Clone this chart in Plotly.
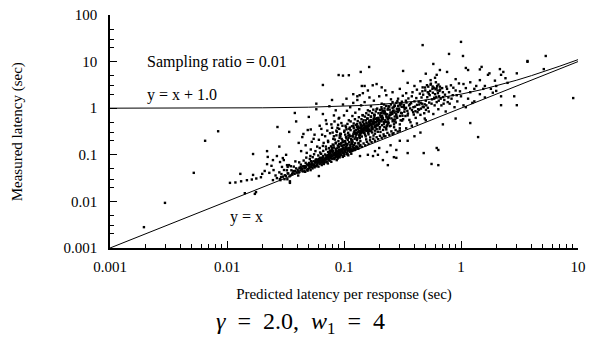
import math
import plotly.graph_objects as go

# ---- data: (predicted latency, measured latency) pairs ----
outliers_left = [
    (0.00195, 0.0028), (0.00295, 0.0093), (0.0052, 0.041), (0.0084, 0.32), (0.0065, 0.2),
    (0.0167, 0.104), (0.0106, 0.025), (0.0118, 0.0255), (0.0132, 0.027), (0.0148, 0.0285),
    (0.0163, 0.0295), (0.0178, 0.031), (0.0195, 0.033), (0.013, 0.039), (0.0167, 0.037),
    (0.020, 0.039), (0.023, 0.041), (0.0142, 0.015), (0.0173, 0.0145),
    (0.0177, 0.0158), (0.0223, 0.09), (0.0267, 0.094), (0.0247, 0.077), (0.0284, 0.07),
    (0.022, 0.063), (0.024, 0.058), (0.0295, 0.055), (0.0326, 0.06), (0.0306, 0.077),
    (0.0267, 0.0316), (0.0247, 0.0286), (0.0345, 0.027), (0.021, 0.045), (0.025, 0.047),
    (0.028, 0.042), (0.026, 0.036), (0.029, 0.033), (0.031, 0.030), (0.022, 0.12),
    (0.028, 0.15), (0.032, 0.10), (0.033, 0.055), (0.030, 0.085), (0.033, 0.040), (0.0345, 0.025),
]

lower_branch = [
    (0.0283, 0.0301), (0.0301, 0.0339), (0.0292, 0.0386), (0.0307, 0.0472), (0.0286, 0.0286),
    (0.0328, 0.0299), (0.0319, 0.0351), (0.0334, 0.0397), (0.0325, 0.0465), (0.0312, 0.0364), (0.0339, 0.0601),
    (0.0349, 0.0362), (0.0364, 0.0408), (0.0355, 0.0465), (0.0342, 0.0344), (0.0369, 0.0447),
    (0.0351, 0.0568), (0.0360, 0.0383),
    (0.0406, 0.0359), (0.0378, 0.0398), (0.0394, 0.0421), (0.0382, 0.0449), (0.0402, 0.0476),
    (0.0390, 0.0511), (0.0372, 0.0558), (0.0408, 0.0437), (0.0384, 0.0722),
    (0.0412, 0.0417), (0.0448, 0.0439), (0.0424, 0.0464), (0.0436, 0.0495), (0.0416, 0.0525),
    (0.0444, 0.0563), (0.0428, 0.0615), (0.0414, 0.0688), (0.0438, 0.0482), (0.0426, 0.0542),
    (0.0466, 0.0432), (0.0486, 0.0479), (0.0458, 0.0508), (0.0474, 0.0541), (0.0462, 0.0573),
    (0.0482, 0.0616), (0.0470, 0.0672), (0.0452, 0.0752), (0.0488, 0.0456), (0.0464, 0.0526), (0.0476, 0.0870),
    (0.0518, 0.0469), (0.0506, 0.0520), (0.0526, 0.0551), (0.0498, 0.0587), (0.0514, 0.0622),
    (0.0502, 0.0668), (0.0522, 0.0729), (0.0510, 0.0816), (0.0492, 0.0495), (0.0528, 0.0571),
    (0.0504, 0.0643), (0.0516, 0.0944),
    (0.0538, 0.0511), (0.0573, 0.0566), (0.0553, 0.0599), (0.0535, 0.0638), (0.0565, 0.0677),
    (0.0550, 0.0727), (0.0575, 0.0794), (0.0540, 0.0888), (0.0560, 0.0538), (0.0545, 0.0622),
    (0.0570, 0.0699), (0.0555, 0.1027),
    (0.0605, 0.0557), (0.0583, 0.0617), (0.0628, 0.0653), (0.0598, 0.0696), (0.0613, 0.0738),
    (0.0588, 0.0793), (0.0623, 0.0865), (0.0603, 0.0968), (0.0585, 0.0587), (0.0615, 0.0678),
    (0.0600, 0.0762), (0.0625, 0.1119),
    (0.0645, 0.0603), (0.0670, 0.0668), (0.0655, 0.0707), (0.0633, 0.0753), (0.0678, 0.0799),
    (0.0648, 0.0858), (0.0663, 0.0937), (0.0638, 0.1048), (0.0673, 0.0635), (0.0653, 0.0734),
    (0.0635, 0.0825), (0.0665, 0.1212),
    (0.0728, 0.0653), (0.0710, 0.0724), (0.0683, 0.0767), (0.0737, 0.0817), (0.0701, 0.0866),
    (0.0719, 0.0930), (0.0689, 0.1015), (0.0731, 0.1136), (0.0707, 0.0689), (0.0686, 0.0795),
    (0.0722, 0.0895), (0.0704, 0.1314),
    (0.0779, 0.0708), (0.0749, 0.0785), (0.0791, 0.0832), (0.0767, 0.0886), (0.0746, 0.0939),
    (0.0782, 0.1009), (0.0764, 0.1101), (0.0794, 0.1232), (0.0752, 0.0747), (0.0776, 0.0862),
    (0.0758, 0.0970), (0.0788, 0.1425),
    (0.0867, 0.0768), (0.0825, 0.0852), (0.0846, 0.0902), (0.0811, 0.0960), (0.0860, 0.1019),
    (0.0832, 0.1094), (0.0807, 0.1194), (0.0849, 0.1336), (0.0828, 0.0810), (0.0863, 0.0935),
    (0.0814, 0.1052),
    (0.0884, 0.0833), (0.0912, 0.0923), (0.0891, 0.0977), (0.0926, 0.1041), (0.0905, 0.1104),
    (0.0874, 0.1186), (0.0937, 0.1294), (0.0895, 0.1448), (0.0916, 0.0878), (0.0881, 0.1014),
    (0.0930, 0.1674),
    (0.0976, 0.0902), (0.0948, 0.1000), (0.0996, 0.1058), (0.0972, 0.1127), (0.1012, 0.1196),
    (0.0956, 0.1284), (0.0988, 0.1401), (0.0964, 0.1568), (0.1004, 0.0951), (0.0980, 0.1098),
    (0.1088, 0.0975), (0.1056, 0.1081), (0.1028, 0.1145), (0.1076, 0.1219), (0.1052, 0.1293),
    (0.1092, 0.1389), (0.1036, 0.1516), (0.1068, 0.1028), (0.1044, 0.1696),
    (0.1154, 0.1053), (0.1127, 0.1168), (0.1172, 0.1237), (0.1145, 0.1317), (0.1105, 0.1397),
    (0.1186, 0.1500), (0.1132, 0.1637), (0.1159, 0.1832),
    (0.1199, 0.1260), (0.1253, 0.1334), (0.1226, 0.1420), (0.1271, 0.1507), (0.1208, 0.1618),
    (0.1244, 0.1766),
    (0.1310, 0.1357), (0.1360, 0.1530), (0.1330, 0.1742), (0.1285, 0.1436),
]

lower_core = [
    (0.0507, 0.0561), (0.0531, 0.0612), (0.0556, 0.0583), (0.0579, 0.0702), (0.0593, 0.0648),
    (0.0617, 0.0721), (0.0641, 0.0689), (0.0658, 0.0781), (0.0676, 0.0742), (0.0694, 0.0853),
    (0.0712, 0.0812), (0.0733, 0.0902), (0.0751, 0.0868), (0.0772, 0.0953), (0.0793, 0.0921),
    (0.0818, 0.1012), (0.0839, 0.0979), (0.0857, 0.1082), (0.0878, 0.1047), (0.0901, 0.1153),
    (0.0921, 0.1118), (0.0944, 0.1221), (0.0967, 0.1187), (0.0992, 0.1302), (0.1021, 0.1258),
    (0.1047, 0.1381), (0.1073, 0.1342), (0.0529, 0.0698), (0.0571, 0.0751), (0.0612, 0.0815),
    (0.0659, 0.0888), (0.0703, 0.0962), (0.0746, 0.1045), (0.0797, 0.1121), (0.0851, 0.1198),
    (0.0907, 0.1273), (0.0969, 0.1355), (0.0489, 0.0612), (0.0452, 0.0568), (0.0431, 0.0521),
]

upper_branch = [
    (0.0726, 0.098), (0.0762, 0.117), (0.0744, 0.139), (0.0774, 0.152), (0.0732, 0.188), (0.0756, 0.124),
    (0.0843, 0.108), (0.0794, 0.131), (0.0822, 0.143), (0.0801, 0.166), (0.0836, 0.212),
    (0.0815, 0.159), (0.0784, 0.121), (0.0847, 0.176),
    (0.0871, 0.117), (0.0906, 0.149), (0.0885, 0.158), (0.0854, 0.183), (0.0917, 0.231),
    (0.0875, 0.137), (0.0896, 0.197), (0.0861, 0.262), (0.0910, 0.171),
    (0.0924, 0.127), (0.0996, 0.162), (0.0948, 0.178), (0.0972, 0.203), (0.0932, 0.248),
    (0.0988, 0.143), (0.0956, 0.219), (0.0928, 0.283), (0.0976, 0.187), (0.0952, 0.156),
    (0.1032, 0.138), (0.1072, 0.171), (0.1016, 0.196), (0.1048, 0.226), (0.1024, 0.271),
    (0.1064, 0.158), (0.1040, 0.242), (0.1004, 0.312), (0.1076, 0.208), (0.1028, 0.183), (0.1052, 0.352),
    (0.1134, 0.148), (0.1107, 0.186), (0.1152, 0.217), (0.1125, 0.249), (0.1085, 0.296),
    (0.1166, 0.172), (0.1112, 0.268), (0.1139, 0.338), (0.1094, 0.231), (0.1157, 0.203),
    (0.1121, 0.384), (0.1089, 0.259),
    (0.1215, 0.163), (0.1175, 0.204), (0.1256, 0.238), (0.1202, 0.274), (0.1229, 0.322),
    (0.1184, 0.189), (0.1247, 0.293), (0.1211, 0.372), (0.1179, 0.253), (0.1233, 0.221),
    (0.1206, 0.417), (0.1251, 0.284), (0.1188, 0.246),
    (0.1330, 0.179), (0.1300, 0.226), (0.1350, 0.262), (0.1280, 0.301), (0.1320, 0.356),
    (0.1290, 0.207), (0.1340, 0.322), (0.1310, 0.408), (0.1265, 0.279), (0.1355, 0.243),
    (0.1295, 0.458), (0.1325, 0.312), (0.1275, 0.269), (0.1345, 0.387),
    (0.1380, 0.197), (0.1420, 0.247), (0.1390, 0.289), (0.1440, 0.331), (0.1410, 0.389),
    (0.1365, 0.228), (0.1455, 0.353), (0.1395, 0.448), (0.1425, 0.306), (0.1375, 0.267),
    (0.1445, 0.502), (0.1405, 0.341), (0.1370, 0.296), (0.1430, 0.424), (0.1400, 0.372),
    (0.1548, 0.214), (0.1515, 0.271), (0.1466, 0.316), (0.1565, 0.362), (0.1499, 0.426),
    (0.1532, 0.249), (0.1477, 0.386), (0.1554, 0.489), (0.1510, 0.334), (0.1471, 0.292),
    (0.1537, 0.548), (0.1504, 0.373), (0.1559, 0.324), (0.1482, 0.463), (0.1526, 0.407), (0.1493, 0.351),
    (0.1675, 0.236), (0.1609, 0.298), (0.1642, 0.347), (0.1587, 0.397), (0.1664, 0.467),
    (0.1620, 0.274), (0.1581, 0.423), (0.1647, 0.536), (0.1614, 0.366), (0.1669, 0.321),
    (0.1592, 0.601), (0.1636, 0.409), (0.1603, 0.355), (0.1658, 0.508), (0.1625, 0.446), (0.1576, 0.384),
    (0.1788, 0.259), (0.1704, 0.327), (0.1752, 0.381), (0.1716, 0.436), (0.1776, 0.512),
    (0.1740, 0.301), (0.1686, 0.464), (0.1794, 0.588), (0.1722, 0.402), (0.1758, 0.352),
    (0.1698, 0.659), (0.1782, 0.449), (0.1734, 0.390), (0.1692, 0.557), (0.1764, 0.489),
    (0.1839, 0.284), (0.1904, 0.358), (0.1865, 0.417), (0.1807, 0.478), (0.1924, 0.561),
    (0.1846, 0.330), (0.1885, 0.508), (0.1820, 0.644), (0.1911, 0.440), (0.1859, 0.386),
    (0.1813, 0.722), (0.1891, 0.492), (0.1852, 0.427), (0.1917, 0.610),
    (0.1944, 0.312), (0.2028, 0.393), (0.1986, 0.458), (0.2056, 0.524), (0.1958, 0.615),
    (0.2014, 0.362), (0.1972, 0.557), (0.2042, 0.706), (0.2000, 0.483), (0.1937, 0.423),
    (0.2063, 0.792), (0.1979, 0.539),
    (0.2160, 0.342), (0.2115, 0.431), (0.2190, 0.502), (0.2145, 0.575), (0.2078, 0.674),
    (0.2213, 0.397), (0.2123, 0.611), (0.2168, 0.774), (0.2093, 0.529), (0.2198, 0.464), (0.2138, 0.868),
    (0.2284, 0.375), (0.2364, 0.473), (0.2252, 0.551), (0.2316, 0.630), (0.2268, 0.739),
    (0.2348, 0.435), (0.2300, 0.670), (0.2228, 0.848), (0.2372, 0.580), (0.2276, 0.509),
    (0.2465, 0.411), (0.2389, 0.518), (0.2542, 0.604), (0.2440, 0.691), (0.2491, 0.810),
    (0.2406, 0.477), (0.2525, 0.735), (0.2457, 0.930), (0.2397, 0.636),
    (0.2676, 0.451), (0.2622, 0.568), (0.2712, 0.662), (0.2586, 0.757), (0.2658, 0.888),
    (0.2604, 0.523), (0.2694, 0.805),
    (0.2770, 0.494), (0.2850, 0.623), (0.2790, 0.726), (0.2890, 0.830), (0.2830, 0.973), (0.2740, 0.573),
    (0.3139, 0.542), (0.3007, 0.683), (0.3073, 0.796), (0.2963, 0.910), (0.3117, 1.070),
]

upper_core = [
    (0.1213, 0.301), (0.1262, 0.342), (0.1304, 0.287), (0.1338, 0.371), (0.1372, 0.318),
    (0.1411, 0.402), (0.1448, 0.347), (0.1487, 0.436), (0.1523, 0.379), (0.1561, 0.468),
    (0.1598, 0.412), (0.1634, 0.497), (0.1671, 0.441), (0.1712, 0.531), (0.1751, 0.472),
    (0.1793, 0.562), (0.1834, 0.503), (0.1878, 0.587), (0.1921, 0.532), (0.1967, 0.618),
    (0.2012, 0.561), (0.2061, 0.647), (0.2109, 0.592), (0.1288, 0.392), (0.1389, 0.431),
    (0.1497, 0.298), (0.1603, 0.326), (0.1718, 0.362), (0.1829, 0.398), (0.1943, 0.441),
]

upper_halo = [
    (0.082, 0.25), (0.087, 0.31), (0.091, 0.36), (0.094, 0.28), (0.097, 0.42), (0.101, 0.33),
    (0.104, 0.39), (0.107, 0.46), (0.111, 0.36), (0.114, 0.52), (0.117, 0.41), (0.121, 0.47),
    (0.124, 0.58), (0.127, 0.44), (0.131, 0.53), (0.134, 0.64), (0.137, 0.49), (0.141, 0.58),
    (0.144, 0.71), (0.147, 0.55), (0.151, 0.66), (0.155, 0.78), (0.158, 0.60), (0.162, 0.72),
    (0.166, 0.86), (0.170, 0.66), (0.174, 0.79), (0.178, 0.93), (0.183, 0.72), (0.187, 0.85),
    (0.192, 0.98), (0.197, 0.78), (0.203, 0.92), (0.209, 1.05), (0.215, 0.85), (0.222, 0.99),
    (0.229, 1.12), (0.236, 0.93), (0.244, 1.08), (0.252, 1.20), (0.260, 1.02), (0.270, 1.15),
    (0.280, 1.30), (0.290, 1.12), (0.300, 1.24), (0.312, 1.38), (0.325, 1.18), (0.338, 1.45),
    (0.088, 0.092), (0.093, 0.100), (0.097, 0.110), (0.102, 0.118), (0.106, 0.104), (0.111, 0.128),
    (0.115, 0.119), (0.120, 0.138), (0.124, 0.127), (0.129, 0.149), (0.133, 0.137), (0.138, 0.162),
    (0.142, 0.148), (0.147, 0.175), (0.152, 0.160), (0.157, 0.190), (0.162, 0.172), (0.167, 0.205),
    (0.172, 0.186), (0.178, 0.221), (0.184, 0.200), (0.190, 0.238), (0.196, 0.216), (0.203, 0.256),
    (0.210, 0.232), (0.218, 0.274), (0.226, 0.250), (0.235, 0.295), (0.244, 0.268), (0.254, 0.318),
    (0.265, 0.290), (0.276, 0.340), (0.288, 0.315), (0.300, 0.370),
]

mid_left = [
    (0.041, 0.18), (0.044, 0.24), (0.047, 0.16), (0.049, 0.34), (0.053, 0.19), (0.056, 0.27),
    (0.059, 0.15), (0.061, 0.21), (0.064, 0.36), (0.067, 0.18), (0.069, 0.25), (0.071, 0.46),
    (0.073, 0.20), (0.076, 0.29), (0.079, 0.38), (0.081, 0.22), (0.083, 0.52), (0.086, 0.33),
    (0.089, 0.44), (0.091, 0.62), (0.043, 0.12), (0.048, 0.11), (0.052, 0.13), (0.057, 0.12),
    (0.062, 0.14), (0.066, 0.155), (0.070, 0.15),
]

upper_spread = [
    (0.21, 0.95), (0.22, 1.2), (0.23, 0.35), (0.24, 1.1), (0.25, 0.42), (0.26, 1.35), (0.27, 0.52),
    (0.28, 0.85), (0.29, 1.6), (0.30, 0.45), (0.31, 1.25), (0.32, 0.58), (0.33, 0.95), (0.34, 2.1),
    (0.35, 0.70), (0.36, 1.15), (0.37, 0.50), (0.38, 1.8), (0.39, 0.82), (0.40, 1.40), (0.41, 0.62),
    (0.42, 2.5), (0.43, 0.95), (0.44, 1.2), (0.45, 0.72), (0.46, 1.7), (0.47, 2.8), (0.48, 1.05),
    (0.49, 0.60), (0.50, 1.45), (0.52, 2.2), (0.53, 0.85), (0.54, 1.9), (0.55, 3.2), (0.56, 1.25),
    (0.57, 2.6), (0.58, 0.75), (0.59, 1.6), (0.60, 2.0), (0.61, 3.6), (0.62, 1.35), (0.63, 2.4),
    (0.64, 0.95), (0.65, 1.8), (0.66, 2.9), (0.68, 1.15), (0.70, 2.2), (0.72, 1.5), (0.74, 0.85),
    (0.76, 2.6), (0.78, 1.7), (0.80, 1.25), (0.82, 3.1), (0.85, 1.9), (0.88, 1.05), (0.90, 2.4),
    (0.93, 1.4), (0.96, 3.4), (1.0, 1.8), (1.05, 1.15), (1.1, 2.7), (1.15, 1.6), (1.2, 2.2),
    (1.3, 1.4), (1.35, 3.0), (1.45, 2.0), (1.55, 2.6), (1.6, 1.7),
    (0.205, 0.31), (0.215, 0.62), (0.225, 0.78), (0.232, 0.41), (0.238, 0.98), (0.248, 0.72),
    (0.252, 1.55), (0.262, 0.88), (0.268, 0.39), (0.272, 1.12), (0.282, 0.66), (0.286, 1.42),
    (0.295, 0.98), (0.305, 0.55), (0.312, 0.78), (0.318, 1.85), (0.325, 1.05), (0.335, 0.68),
    (0.342, 1.32), (0.348, 0.88), (0.355, 1.62), (0.362, 0.56), (0.368, 0.99), (0.375, 1.28),
    (0.385, 2.2), (0.395, 0.73), (0.405, 1.08), (0.415, 1.65), (0.425, 0.82), (0.435, 1.38),
    (0.445, 2.05), (0.455, 0.98), (0.465, 1.25), (0.475, 1.95), (0.485, 0.78), (0.495, 2.4),
    (0.505, 1.15), (0.515, 1.72), (0.525, 2.9), (0.535, 1.32), (0.545, 2.35), (0.565, 1.55),
    (0.575, 2.15), (0.585, 2.75), (0.595, 1.15), (0.605, 2.55), (0.615, 1.75), (0.625, 3.0),
    (0.635, 2.1), (0.645, 1.45), (0.655, 2.35), (0.67, 1.6), (0.69, 2.7), (0.71, 1.25),
    (0.73, 1.95), (0.75, 2.9), (0.77, 1.35), (0.79, 2.2), (0.83, 1.6), (0.86, 2.75),
    (0.92, 1.9), (0.98, 2.3),
    (0.22, 0.25), (0.26, 0.28), (0.30, 0.33), (0.34, 0.37), (0.38, 0.42), (0.42, 0.47), (0.50, 0.55),
    (0.468, 2.31), (0.493, 2.78), (0.512, 3.12), (0.531, 2.05), (0.553, 3.35), (0.572, 2.92),
    (0.591, 1.68), (0.618, 2.69), (0.642, 3.22), (0.663, 2.52), (0.702, 1.73),
    (0.212, 0.68), (0.221, 0.88), (0.234, 0.74), (0.243, 0.61), (0.257, 0.81), (0.266, 1.05),
    (0.279, 0.74), (0.291, 0.88), (0.303, 1.15), (0.316, 0.69), (0.328, 0.84), (0.339, 1.02),
    (0.352, 0.77), (0.366, 1.22), (0.381, 0.91), (0.392, 1.05), (0.408, 0.86), (0.421, 1.18),
    (0.438, 0.93), (0.452, 1.31), (0.471, 1.08), (0.489, 1.21), (0.502, 0.92), (0.521, 1.02),
]

scatter_above = [
    (0.038, 0.79), (0.034, 0.31), (0.027, 0.395), (0.039, 0.52), (0.045, 0.28), (0.050, 0.65),
    (0.052, 0.35), (0.055, 0.22), (0.058, 0.95), (0.062, 0.42), (0.065, 0.27), (0.066, 0.75),
    (0.070, 0.55), (0.072, 0.33), (0.075, 1.1), (0.078, 0.45), (0.080, 0.30), (0.082, 0.70),
    (0.085, 0.90), (0.088, 0.38), (0.090, 0.60), (0.092, 0.26), (0.095, 0.48), (0.098, 1.2),
    (0.100, 0.70), (0.103, 0.42), (0.106, 0.88), (0.110, 0.55), (0.113, 1.05), (0.118, 0.68),
    (0.120, 1.3), (0.125, 0.80), (0.130, 1.5), (0.135, 0.95), (0.140, 1.15), (0.145, 0.70),
    (0.150, 1.35), (0.160, 0.90), (0.165, 1.7), (0.170, 1.1), (0.180, 1.45), (0.190, 0.95),
    (0.200, 1.8), (0.210, 1.25),
    (0.066, 3.15), (0.079, 1.5), (0.120, 2.0), (0.130, 1.8), (0.136, 1.9), (0.145, 2.1),
    (0.142, 3.0), (0.150, 3.0), (0.176, 3.1), (0.190, 3.3), (0.210, 2.8), (0.225, 2.4),
    (0.090, 5.15), (0.098, 5.0), (0.110, 5.1), (0.139, 6.0), (0.164, 7.66), (0.32, 6.3),
    (0.058, 1.25), (0.105, 1.6), (0.160, 2.4), (0.230, 1.9), (0.260, 2.2), (0.30, 2.6),
    (0.35, 3.5), (0.40, 3.0), (0.47, 22.6), (1.0, 26.5), (0.79, 14.6), (1.04, 13.2),
    (5.3, 13.2), (3.7, 10.3), (0.58, 8.9), (0.66, 6.6), (0.76, 6.0), (0.55, 4.0),
    (0.60, 4.5), (0.45, 3.8), (0.62, 5.2), (0.50, 5.5),
]

tail = [
    (1.1, 7.3), (1.15, 6.6), (1.45, 6.8), (1.5, 7.7), (1.7, 5.2), (1.75, 5.6), (1.45, 4.0),
    (2.15, 6.9), (2.3, 6.0), (2.2, 5.2), (3.0, 5.6), (3.7, 9.9), (5.1, 6.9), (2.4, 4.4),
    (1.95, 3.9), (2.0, 3.0), (1.87, 2.15), (2.0, 2.35), (2.2, 1.8), (2.85, 1.8), (2.2, 1.16),
    (3.0, 1.16), (9.1, 1.65), (1.2, 0.48), (1.4, 0.24), (0.62, 0.14), (1.25, 1.3), (1.3, 2.6),
    (1.6, 3.0), (1.8, 2.6), (2.5, 3.5), (1.1, 1.05), (1.2, 3.6), (0.9, 4.2), (1.05, 3.3),
]

below_line = [
    (0.28, 0.127), (0.267, 0.089), (0.28, 0.086), (0.35, 0.109), (0.48, 0.109), (0.64, 0.127),
    (0.56, 0.0636), (0.64, 0.060), (0.061, 0.035), (0.137, 0.094), (0.16, 0.10), (0.177, 0.094),
    (0.195, 0.10), (0.215, 0.077), (0.237, 0.060), (0.184, 0.12), (0.233, 0.115), (0.25, 0.16),
    (0.30, 0.20), (0.40, 0.25), (0.45, 0.30), (0.70, 0.45), (0.90, 0.60), (0.35, 0.20), (0.20, 0.14),
]

# reference lines
line_x = [0.001, 0.002, 0.005, 0.01, 0.02, 0.05, 0.1, 0.15, 0.2, 0.3, 0.4, 0.5, 0.7,
          1.0, 1.5, 2.0, 3.0, 4.0, 5.0, 7.0, 10.0]
line_offset = 1.0

x_ticks = [0.001, 0.01, 0.1, 1, 10]
x_labels = ["0.001", "0.01", "0.1", "1", "10"]
y_ticks = [0.001, 0.01, 0.1, 1, 10, 100]
y_labels = ["0.001", "0.01", "0.1", "1", "10", "100"]

groups = [outliers_left, lower_branch, lower_core, upper_branch, upper_core, upper_halo,
          mid_left, upper_spread, scatter_above, tail, below_line]
px_vals = [p[0] for g in groups for p in g]
py_vals = [p[1] for g in groups for p in g]

FONT = "Liberation Serif, Times New Roman, Times, serif"
fig = go.Figure()

fig.add_trace(go.Scatter(x=line_x, y=line_x, mode="lines",
                         line=dict(color="black", width=1), hoverinfo="skip"))
fig.add_trace(go.Scatter(x=line_x, y=[v + line_offset for v in line_x], mode="lines",
                         line=dict(color="black", width=1), hoverinfo="skip"))
fig.add_trace(go.Scatter(x=px_vals, y=py_vals, mode="markers",
                         marker=dict(symbol="square", size=2.4, color="black", line=dict(width=0))))

minor_x = [m * 10 ** e for e in range(-3, 1) for m in range(2, 10)]
minor_y = [m * 10 ** e for e in range(-3, 2) for m in (2, 3, 5)]

axis_common = dict(type="log", showline=True, linecolor="black", linewidth=1.5,
                   ticks="inside", ticklen=7, tickwidth=1, tickcolor="black",
                   showgrid=False, zeroline=False, mirror=False, automargin=False,
                   tickfont=dict(family=FONT, size=15, color="black"), tickmode="array")

fig.update_xaxes(range=[-3, 1], tickvals=x_ticks, ticktext=x_labels, ticklabelstandoff=4,
                 minor=dict(ticks="inside", ticklen=4, tickcolor="black", tickwidth=1,
                            tickmode="array", tickvals=minor_x, showgrid=False),
                 title=dict(text="Predicted latency per response (sec)",
                            font=dict(family=FONT, size=15, color="black"), standoff=15),
                 **axis_common)
fig.update_yaxes(range=[-3, 2], tickvals=y_ticks, ticktext=y_labels, ticklabelstandoff=8,
                 minor=dict(ticks="inside", ticklen=4, tickcolor="black", tickwidth=1,
                            tickmode="array", tickvals=minor_y, showgrid=False),
                 **axis_common)

annots = [
    dict(text="Sampling ratio = 0.01", x=math.log10(0.002), y=math.log10(9.8),
         xanchor="left", yanchor="middle"),
    dict(text="y = x + 1.0", x=math.log10(0.002), y=math.log10(1.92),
         xanchor="left", yanchor="middle"),
    dict(text="y = x", x=math.log10(0.0102), y=math.log10(0.0046),
         xanchor="left", yanchor="middle"),
]
for a in annots:
    fig.add_annotation(xref="x", yref="y", showarrow=False,
                       font=dict(family=FONT, size=16, color="black"), **a)

fig.add_annotation(text="Measured latency (sec)", xref="paper", yref="paper",
                   x=-0.197, y=0.5, textangle=-90, showarrow=False,
                   xanchor="center", yanchor="middle",
                   font=dict(family=FONT, size=15, color="black"))
fig.add_annotation(text="<i>γ</i>\u2002=\u20022.0,\u2002<i>w</i><sub>1</sub>\u2002=\u20024",
                   xref="paper", yref="paper",
                   x=0.408, y=-0.322, showarrow=False, xanchor="center", yanchor="middle",
                   font=dict(family=FONT, size=24, color="black"))

fig.update_layout(width=596, height=341, margin=dict(l=110, r=18, t=15, b=93),
                  plot_bgcolor="white", paper_bgcolor="white", showlegend=False,
                  font=dict(family=FONT, color="black"))

fig.write_html("out.html")
